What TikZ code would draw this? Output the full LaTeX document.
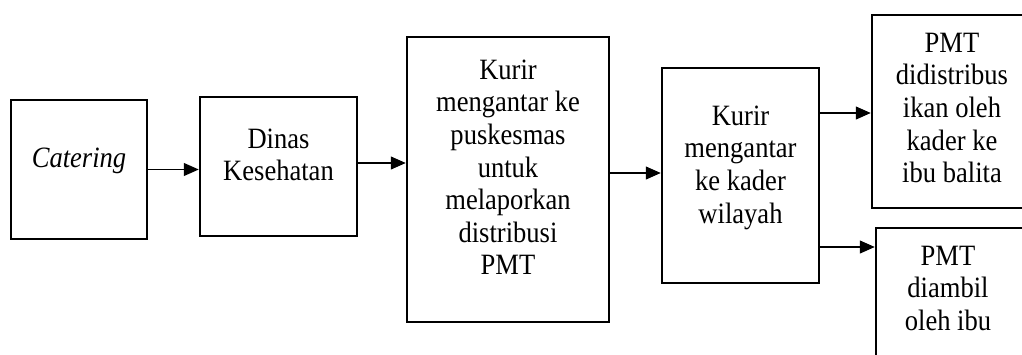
\documentclass[tikz,border=0pt]{standalone}
\usepackage{fontspec}
\setmainfont{Liberation Serif}
\newfontfamily\boxfont[FakeStretch=0.9]{Liberation Serif}
\usetikzlibrary{arrows.meta}
\newcommand{\fl}{\rule{0pt}{24pt}}
\begin{document}
\begin{tikzpicture}[x=1pt,y=-1pt,
  box/.style={draw,line width=2.5pt,rectangle,inner sep=0pt},
  txt/.style={anchor=north,align=center,inner sep=0pt,
    font=\boxfont\fontsize{29.5}{32.6}\selectfont},
  arr/.style={line width=1.2pt,-{Triangle[length=15pt,width=13pt]}}]
\useasboundingbox (0,0) rectangle (1022,354);
\clip (0,0) rectangle (1022,354);
% boxes
\node[box,minimum width=136pt,minimum height=139pt] (cat) at (79,169.5) {};
\node[box,minimum width=157pt,minimum height=139pt] (din) at (278.5,166.5) {};
\node[box,minimum width=202pt,minimum height=285pt] (kur) at (508,179.5) {};
\node[box,minimum width=157pt,minimum height=215pt] (kad) at (740.5,175.5) {};
\node[box,minimum width=160pt,minimum height=193pt] (p1) at (952,111.5) {};
\node[box,minimum width=150pt,minimum height=152pt] (p2) at (951,304) {};
% labels
\node[txt] (catT) at (79,143) {\fl\textit{Catering}};
\node[txt] (dinT) at (278.5,124) {\fl Dinas\\Kesehatan};
\node[txt] (kurT) at (508,55) {\fl Kurir\\mengantar ke\\puskesmas\\untuk\\melaporkan\\distribusi\\PMT};
\node[txt] (kadT) at (740.5,101) {\fl Kurir\\mengantar\\ke kader\\wilayah};
\node[txt] (p1T) at (952,28) {\fl PMT\\didistribus\\ikan oleh\\kader ke\\ibu balita};
\node[txt] (p2T) at (948,241) {\fl PMT\\diambil\\oleh ibu};
% connectors
\draw[arr] (cat.east) -- (cat.east -| din.west);
\draw[arr] ([yshift=3.5pt]din.east) -- ([yshift=3.5pt]din.east -| kur.west);
\draw[arr] ([yshift=6.5pt]kur.east) -- ([yshift=6.5pt]kur.east -| kad.west);
\draw[arr] ([yshift=62.5pt]kad.east) -- ([yshift=62.5pt]kad.east -| p1.west);
\draw[arr] ([yshift=-71.5pt]kad.east) -- ([yshift=-71.5pt]kad.east -| p2.west);
\end{tikzpicture}
\end{document}
